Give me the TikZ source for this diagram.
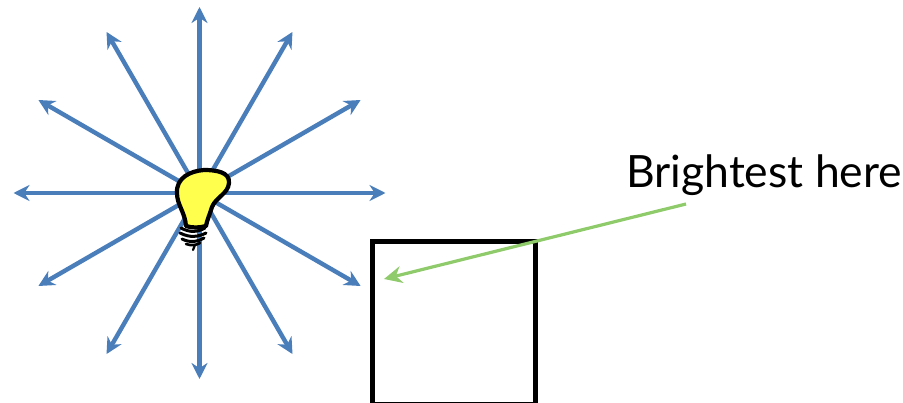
\documentclass[tikz,border=0pt]{standalone}
\usepackage{fontspec}
\setmainfont{Lato}
\usetikzlibrary{arrows.meta,calc}
\definecolor{rayblue}{HTML}{4A7EBB}
\definecolor{pointgreen}{HTML}{8FCB6B}
\definecolor{bulbyellow}{HTML}{FFFF4D}
\tikzset{
  ray/.style={draw=rayblue,line width=4.4pt,-{Stealth[length=16pt,width=16pt]}},
  pointer/.style={draw=pointgreen,line width=3.2pt,-{Stealth[length=18pt,width=17pt]}},
  patch/.style={draw=black,line width=5pt},
}
\begin{document}
\begin{tikzpicture}[x=1pt,y=-1pt,>=Stealth]
  \useasboundingbox (0,0) rectangle (903,403);
  \coordinate (bulb) at (199.5,193);
  % rays of light
  \foreach \a in {0,30,...,330}
    \draw[ray] (bulb) -- ($(bulb)+(\a:186)$);
  % bulb glass
  \draw[fill=bulbyellow,line width=4.2pt,line join=round]
    (186,226) .. controls (185,212) and (177,205) .. (177,193)
    .. controls (176,178) and (190,171) .. (204,170)
    .. controls (216,170) and (230,172) .. (229,183)
    .. controls (228,194) and (216,197) .. (212,207)
    .. controls (210,214) and (207,220) .. (206,226)
    .. controls (199,228) and (192,228) .. (186,226) -- cycle;
  % screw thread
  \draw[line width=3pt,line cap=round]
    (181,228) .. controls (190,233) and (198,232) .. (205,228);
  \draw[line width=3pt,line cap=round]
    (180,233) .. controls (190,238) and (198,237) .. (206,233);
  \draw[line width=3pt,line cap=round]
    (182,239) .. controls (190,243) and (198,242) .. (204,238);
  \draw[line width=2.6pt,line cap=round]
    (186,244) .. controls (191,246) and (197,245) .. (200,243);
  \draw[line width=2.2pt,line cap=round] (195,245) -- (193,250);
  % patch
  \node[patch,minimum width=163pt,minimum height=163pt,inner sep=0pt,anchor=north west]
    (square) at (369.5,239) {};
  % label and pointer
  \node[anchor=base west,inner sep=0pt,font=\fontsize{44.5}{44.5}\selectfont] (label) at (626,188) {Brightest here};
  \coordinate (spot) at (384,279);
  \draw[pointer] ([xshift=60pt,yshift=-16pt]label.base west) -- (spot);
\end{tikzpicture}
\end{document}
